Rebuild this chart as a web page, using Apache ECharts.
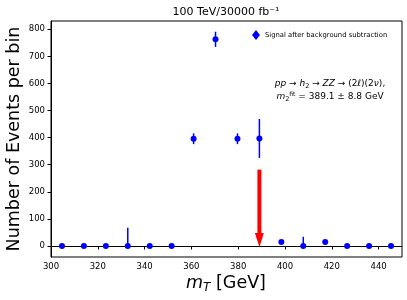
<!DOCTYPE html>
<html>
<head>
<meta charset="utf-8">
<script src="https://cdn.jsdelivr.net/npm/echarts@6/dist/echarts.min.js"></script>
<style>
html,body{margin:0;padding:0;background:#fff;}
#c{width:407px;height:300px;}
</style>
</head>
<body>
<div id="c"></div>
<script>
// ---- data ----
const binCenters = [304.69, 314.06, 323.44, 332.81, 342.19, 351.56, 360.94, 370.31, 379.69, 389.06, 398.44, 407.81, 417.19, 426.56, 435.94, 445.31];
const signalValues = [0, 0, 0, 0, 0, 0, 396, 763, 396, 397, 15, 0, 15, 0, 0, 0];
const errLow  = [0, 0, 0, 0, 0, 0, 20, 28, 20, 72, 4, 0, 4, 0, 0, 0];
const errHigh = [0, 0, 0, 67, 0, 0, 20, 28, 20, 72, 4, 34, 4, 0, 0, 0];
const xTicks = [300, 320, 340, 360, 380, 400, 420, 440];
const yTicks = [0, 100, 200, 300, 400, 500, 600, 700, 800];
const arrowX = 389.06, arrowTop = 282, arrowTip = -4;
const seriesName = 'Signal after background subtraction';

const FONT = 'DejaVu Sans';
const pts = binCenters.map((x, i) => [x, signalValues[i]]);
const errData = binCenters.map((x, i) => [x, signalValues[i], errLow[i], errHigh[i]]);

const chart = echarts.init(document.getElementById('c'), null, {renderer: 'canvas'});
chart.setOption({
  animation: false,
  backgroundColor: '#fff',
  textStyle: {fontFamily: FONT},
  grid: {left: 51, top: 21, width: 351, height: 236, show: true, borderColor: '#000', borderWidth: 1, containLabel: false},
  legend: {
    left: 247, top: 25, itemWidth: 8, itemHeight: 10, itemGap: 4,
    data: [{name: seriesName, icon: 'diamond'}],
    itemStyle: {opacity: 1},
    textStyle: {fontFamily: FONT, fontSize: 6.8, color: '#000'}
  },
  xAxis: {
    type: 'value', min: 300, max: 450,
    axisLine: {show: true, lineStyle: {color: '#000', width: 1}},
    axisTick: {show: true, length: 3.5, lineStyle: {color: '#000'}, customValues: xTicks},
    axisLabel: {fontFamily: FONT, fontSize: 8.5, color: '#000', margin: 5, customValues: xTicks},
    splitLine: {show: false}
  },
  yAxis: {
    type: 'value', min: -40.6, max: 830.6,
    axisLine: {show: true, lineStyle: {color: '#000', width: 1}},
    axisTick: {show: true, length: 3.5, lineStyle: {color: '#000'}, customValues: yTicks},
    axisLabel: {fontFamily: FONT, fontSize: 8.5, color: '#000', margin: 6, customValues: yTicks},
    splitLine: {show: false}
  },
  graphic: [
    {type: 'text', x: 226, y: 12, style: {text: '100 TeV/30000 fb⁻¹', fontFamily: FONT, fontSize: 11, fill: '#000', align: 'center', verticalAlign: 'middle'}},
    {type: 'text', x: 226, y: 283, style: {
      text: '{i|m}{s|T}{n| [GeV]}', align: 'center', verticalAlign: 'middle',
      rich: {
        n: {fontFamily: FONT, fontSize: 17.5, fill: '#000', lineHeight: 20},
        i: {fontFamily: FONT, fontSize: 17.5, fontStyle: 'italic', fill: '#000', lineHeight: 20},
        s: {fontFamily: FONT, fontSize: 12, fontStyle: 'italic', fill: '#000', lineHeight: 20, padding: [9, 0, 0, 0]}
      }
    }},
    {type: 'text', x: 14, y: 139, rotation: Math.PI / 2, style: {text: 'Number of Events per bin', fontFamily: FONT, fontSize: 17.5, fill: '#000', align: 'center', verticalAlign: 'middle'}},
    {type: 'text', x: 330, y: 84, style: {
      text: '{i|pp}{n| → }{i|h}{s|2}{n| → }{i|ZZ}{n| → (2}{i|ℓ}{n|)(2}{i|ν}{n|),}', align: 'center', verticalAlign: 'middle',
      rich: {
        n: {fontFamily: FONT, fontSize: 9, fill: '#000', lineHeight: 12},
        i: {fontFamily: FONT, fontSize: 9, fontStyle: 'italic', fill: '#000', lineHeight: 12},
        s: {fontFamily: FONT, fontSize: 6.5, fill: '#000', lineHeight: 12, padding: [5, 0, 0, 0]}
      }
    }},
    {type: 'text', x: 330, y: 97, style: {
      text: '{i|m}{s|2}{u|fit}{n| = 389.1 ± 8.8 GeV}', align: 'center', verticalAlign: 'middle',
      rich: {
        n: {fontFamily: FONT, fontSize: 9, fill: '#000', lineHeight: 12},
        i: {fontFamily: FONT, fontSize: 9, fontStyle: 'italic', fill: '#000', lineHeight: 12},
        s: {fontFamily: FONT, fontSize: 6.5, fill: '#000', lineHeight: 12, padding: [5, 0, 0, 0]},
        u: {fontFamily: FONT, fontSize: 6, fill: '#000', lineHeight: 12, padding: [0, 0, 6, 0]}
      }
    }}
  ],
  series: [
    {
      type: 'custom', name: 'errbars', silent: true, z: 2,
      data: errData,
      renderItem: function (params, api) {
        const x = api.value(0), y = api.value(1), lo = api.value(2), hi = api.value(3);
        const a = api.coord([x, y - lo]), b = api.coord([x, y + hi]);
        return {type: 'line', shape: {x1: a[0], y1: a[1], x2: b[0], y2: b[1]}, style: {stroke: '#0000ff', lineWidth: 1.5}};
      }
    },
    {
      type: 'scatter', name: seriesName, data: pts, symbol: 'circle', symbolSize: 6, z: 3,
      itemStyle: {color: '#0000ff', opacity: 1}
    },
    {
      type: 'custom', name: 'arrow', silent: true, z: 4,
      data: [[arrowX, arrowTop, arrowTip]],
      renderItem: function (params, api) {
        const x = api.value(0);
        const t = api.coord([x, api.value(1)]), p = api.coord([x, api.value(2)]);
        const headLen = 14, headHalf = 4.5, shaftHalf = 2;
        return {type: 'group', children: [
          {type: 'rect', shape: {x: t[0] - shaftHalf, y: t[1], width: shaftHalf * 2, height: (p[1] - headLen) - t[1]}, style: {fill: '#ff0000'}},
          {type: 'polygon', shape: {points: [[p[0] - headHalf, p[1] - headLen], [p[0] + headHalf, p[1] - headLen], [p[0], p[1]]]}, style: {fill: '#ff0000'}}
        ]};
      }
    }
  ]
});
</script>
</body>
</html>
